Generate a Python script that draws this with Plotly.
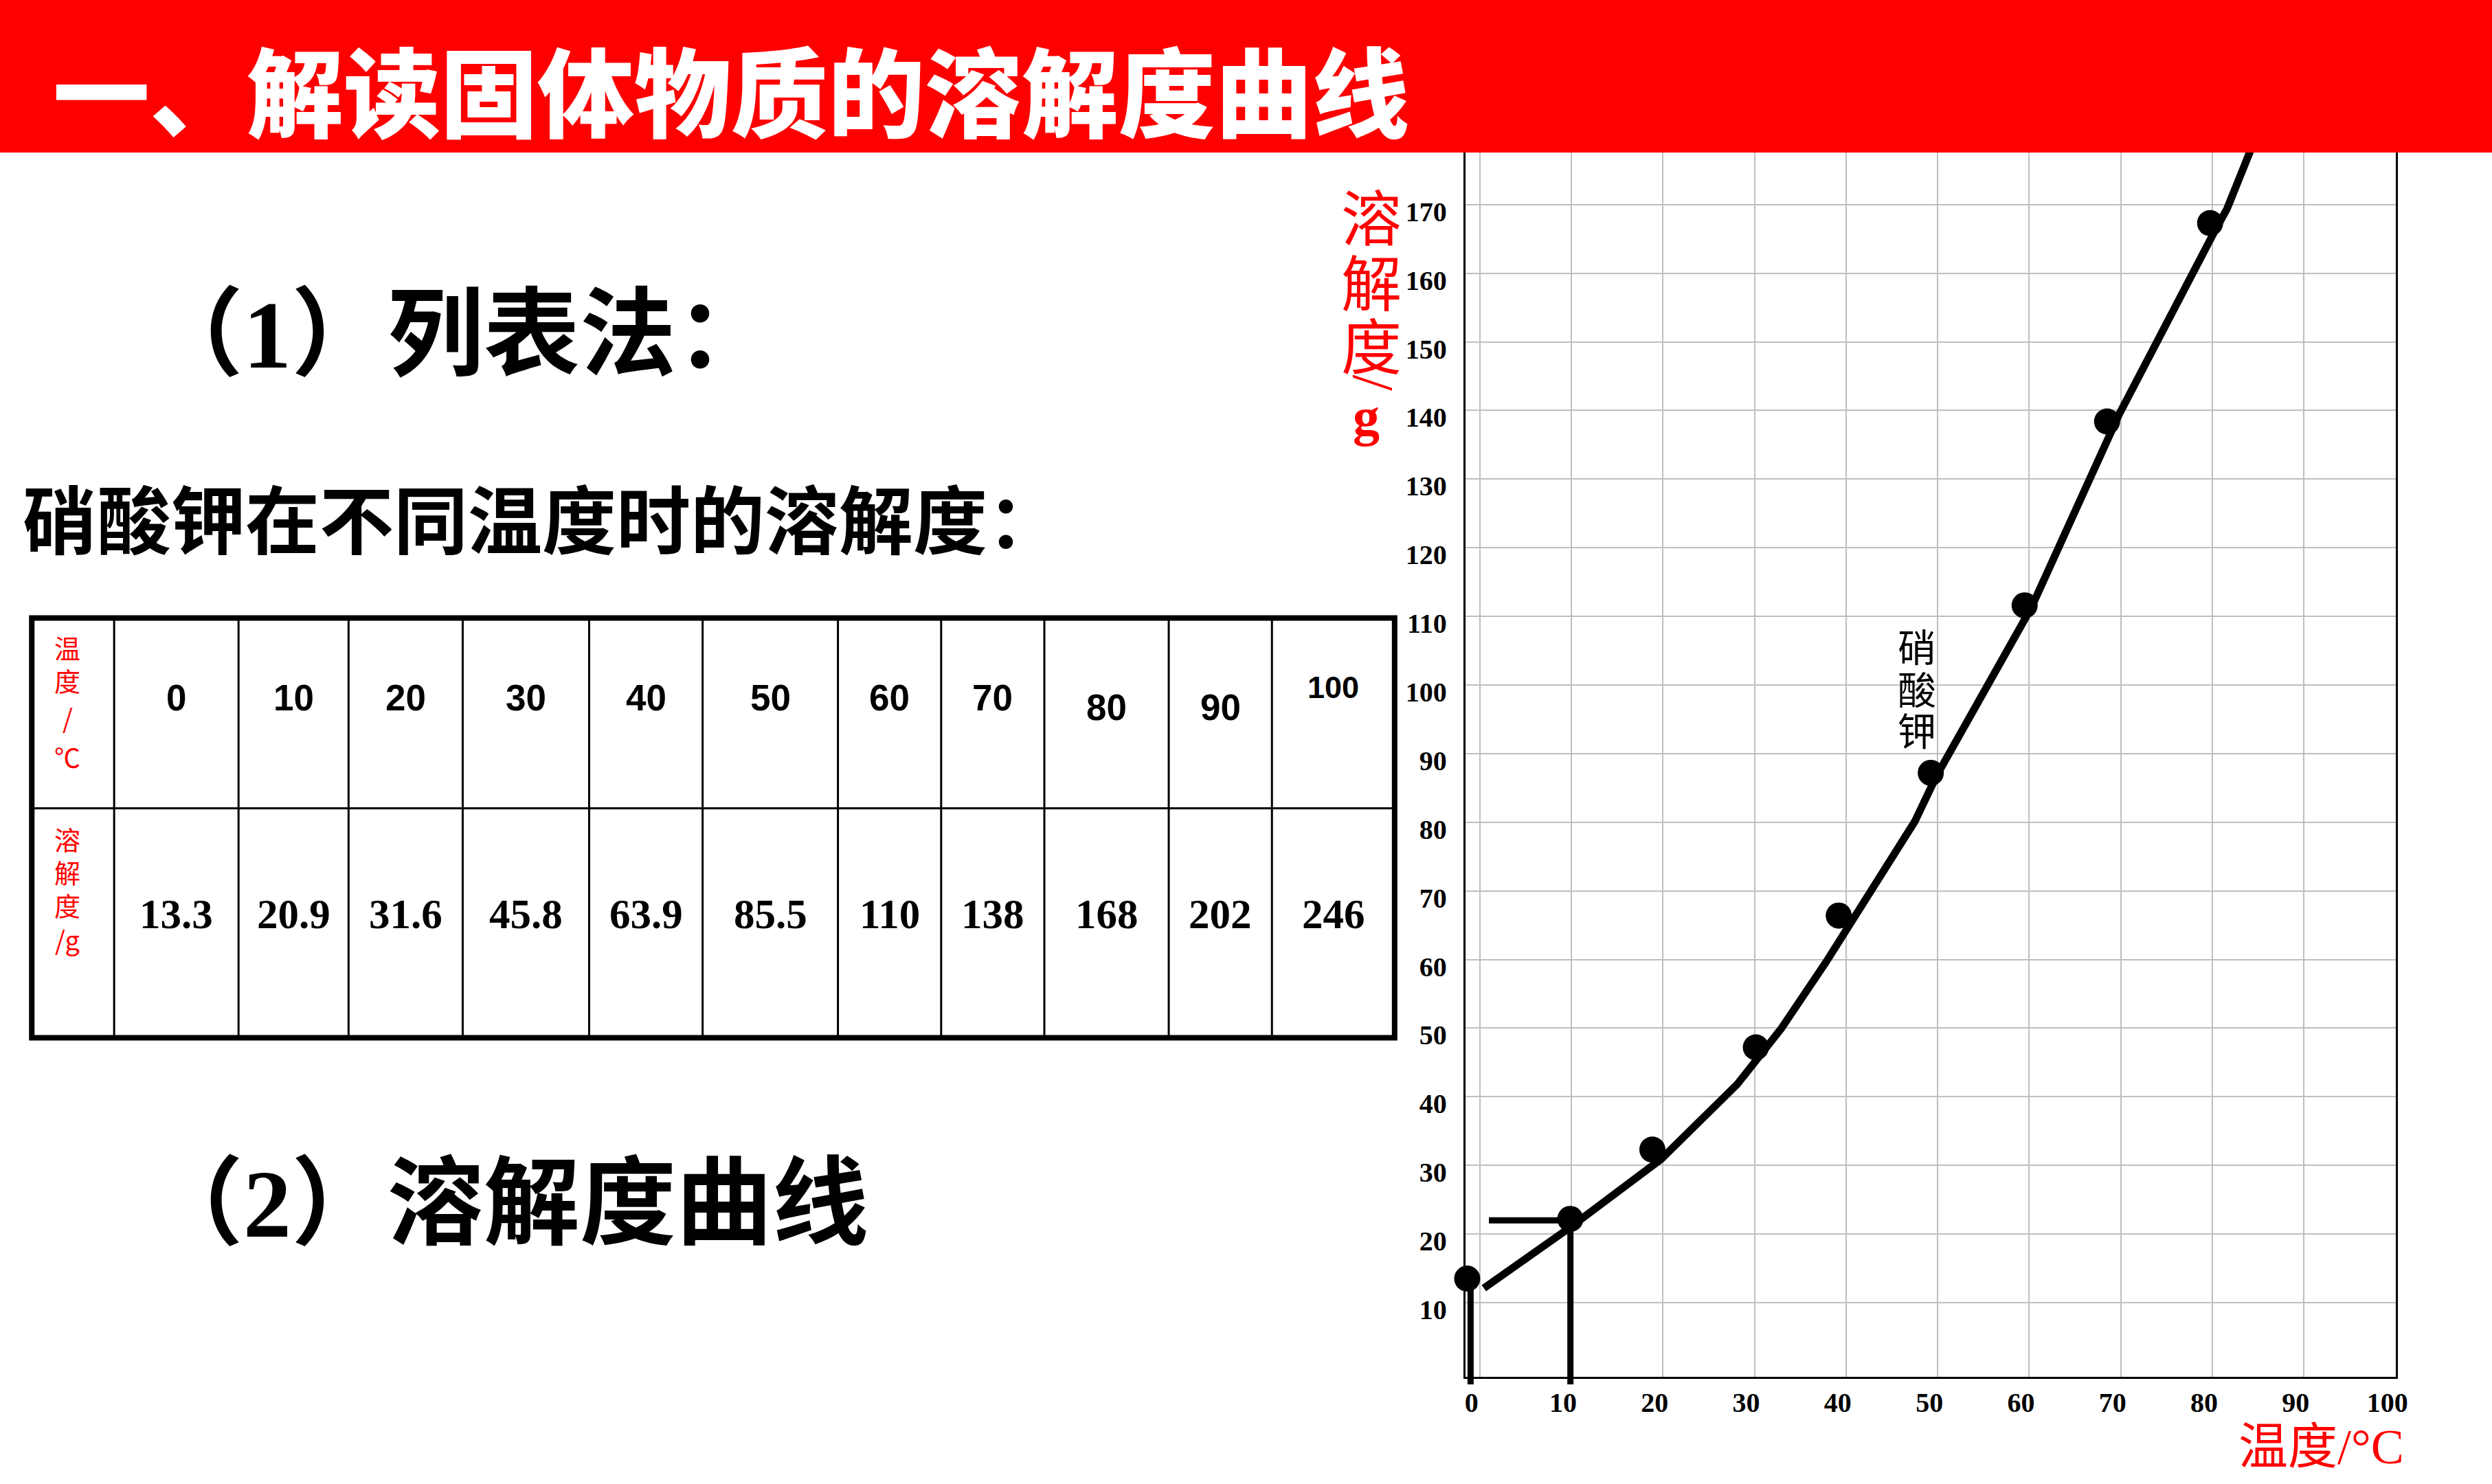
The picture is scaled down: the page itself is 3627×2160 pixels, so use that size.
import plotly.graph_objects as go

W, H = 3627, 2160

# ---------------- data ----------------
title_text = "一、解读固体物质的溶解度曲线"
section1_text = "（1）列表法："
table_caption = "硝酸钾在不同温度时的溶解度："
section2_text = "（2）溶解度曲线"

table_temps = ["0", "10", "20", "30", "40", "50", "60", "70", "80", "90", "100"]
table_solubility = ["13.3", "20.9", "31.6", "45.8", "63.9", "85.5", "110", "138", "168", "202", "246"]
row_label_temp = ["温", "度", "/", "℃"]
row_label_sol = ["溶", "解", "度", "/g"]

# points as drawn on the graph
dot_temp = [-1.37, 9.89, 18.85, 30.15, 39.2, 49.25, 59.5, 68.5, 79.75]
dot_sol = [13.5, 22.2, 32.3, 47.2, 66.4, 87.2, 111.6, 138.4, 167.3]

# hand-drawn solubility curve
curve_temp = [0.45, 9.9, 19.8, 28.1, 32.9, 37.8, 47.5, 49.9, 60.2, 69.8, 80.2, 81.6, 84.1, 86.4]
curve_sol = [12.1, 21.0, 30.9, 41.8, 49.9, 59.6, 80.1, 86.8, 111.2, 139.4, 166.0, 169.4, 177.7, 186.0]

# reading guides
guide_temp = [-1.0, 9.9]
guide_sol = [13.5, 22.0]
hguide_start = 1.0

x_ticks = [0, 10, 20, 30, 40, 50, 60, 70, 80, 90, 100]
y_ticks = [10, 20, 30, 40, 50, 60, 70, 80, 90, 100, 110, 120, 130, 140, 150, 160, 170, 180]
curve_label = ["硝", "酸", "钾"]
y_title_chars = ["溶", "解", "度"]
x_title = "温度/°C"

# ---------------- layout constants (pixels) ----------------
PLOT_L, PLOT_R, PLOT_B, PLOT_T = 2143, 3504, 2004, 148
X_RANGE = [-1.57, 100]
Y_RANGE = [-0.81, 185]
GUIDE_BOTTOM = 2015
BAND_BOTTOM = 222

def px(x):
    return x / W

def py(y):
    return 1 - y / H

RED = "#FF0000"
CJK = "Noto Sans CJK SC"
SERIF = "Liberation Serif, Noto Sans CJK SC"

fig = go.Figure()

# curve
fig.add_trace(go.Scatter(x=curve_temp, y=curve_sol, mode="lines",
                         line=dict(color="black", width=11), hoverinfo="skip", showlegend=False))
# vertical guides (in-plot part)
for t, s in zip(guide_temp, guide_sol):
    fig.add_trace(go.Scatter(x=[t, t], y=[s, Y_RANGE[0]], mode="lines",
                             line=dict(color="black", width=9), showlegend=False, hoverinfo="skip"))
# horizontal guide
fig.add_trace(go.Scatter(x=[hguide_start, guide_temp[1]], y=[guide_sol[1], guide_sol[1]], mode="lines",
                         line=dict(color="black", width=9), showlegend=False, hoverinfo="skip"))
# dots
fig.add_trace(go.Scatter(x=dot_temp, y=dot_sol, mode="markers", cliponaxis=False,
                         marker=dict(color="black", size=38, line=dict(width=0)),
                         showlegend=False, hoverinfo="skip"))

shapes = []
# guide stubs below the axis
stub = (GUIDE_BOTTOM - PLOT_B) / (PLOT_B - PLOT_T)
for t in guide_temp:
    shapes.append(dict(type="line", xref="x", yref="y domain", x0=t, x1=t, y0=-stub, y1=0,
                       line=dict(color="black", width=9)))

# red title band
shapes.append(dict(type="rect", xref="paper", yref="paper", x0=-0.01, x1=1.01, y0=py(BAND_BOTTOM), y1=1.01,
                   fillcolor=RED, line=dict(width=0), layer="above"))

# table
cols = [45.5, 166, 348, 509, 676, 861, 1027, 1225, 1376, 1527, 1709, 1860, 2039.5]
rows = [899.5, 1176.5, 1510.5]
for c in cols[1:-1]:
    shapes.append(dict(type="line", xref="paper", yref="paper", x0=px(c), x1=px(c),
                       y0=py(rows[0]), y1=py(rows[2]), line=dict(color="black", width=3)))
shapes.append(dict(type="line", xref="paper", yref="paper", x0=px(cols[0]), x1=px(cols[-1]),
                   y0=py(rows[1]), y1=py(rows[1]), line=dict(color="black", width=3)))
shapes.append(dict(type="rect", xref="paper", yref="paper", x0=px(cols[0]), x1=px(cols[-1]),
                   y0=py(rows[2]), y1=py(rows[0]), line=dict(color="black", width=8)))

ann = []

def text(x, y, s, size, color="black", family=CJK, weight="normal", xanchor="center", yanchor="middle", angle=0):
    ann.append(dict(x=px(x), y=py(y), xref="paper", yref="paper", text=s, showarrow=False,
                    xanchor=xanchor, yanchor=yanchor, textangle=angle,
                    font=dict(size=size, color=color, family=family, weight=weight)))

# title
text(74, 127, title_text, 141, color="white", weight=900, xanchor="left")
# section texts
text(212, 488, section1_text, 140, family=SERIF, weight="bold", xanchor="left")
text(30, 751, table_caption, 108, weight="bold", xanchor="left")
text(212, 1752, section2_text, 140, family=SERIF, weight="bold", xanchor="left")

# table text
centers = [(cols[i] + cols[i + 1]) / 2 for i in range(len(cols) - 1)]
header_dy = [0, 0, 0, 0, 0, 0, 0, 0, 14, 14, -15]
header_size = [53] * 10 + [45]
for i, t in enumerate(table_temps):
    text(centers[i + 1], 1015 + header_dy[i], t, header_size[i],
         family="Liberation Sans Narrow, Liberation Sans", weight="bold")
for i, s in enumerate(table_solubility):
    text(centers[i + 1], 1330, s, 61, family="Liberation Serif", weight="bold")
for ch, y in zip(row_label_temp, [941, 990, 1043, 1100]):
    text(centers[0] - 8, y, ch, 38, color=RED)
for ch, y in zip(row_label_sol, [1220, 1268, 1316, 1366]):
    text(centers[0] - 8, y, ch, 38, color=RED)

# axis titles (vertical writing, one glyph per line)
for ch, y in zip(y_title_chars, [311, 406, 498]):
    text(2006, y, ch, 88, color=RED)
text(2008, 558, "/", 84, color=RED, family="Liberation Serif", angle=90)
text(1998, 606, "g", 78, color=RED, family="Liberation Serif", weight="bold")
text(3518, 2106, x_title, 72, color=RED, family=SERIF, xanchor="right")

# curve label (vertical writing)
for ch, y in zip(curve_label, [938, 1000, 1060]):
    text(2804, y, ch, 56)

fig.update_layout(
    width=W, height=H, margin=dict(l=0, r=0, t=0, b=0),
    paper_bgcolor="white", plot_bgcolor="white", showlegend=False,
    shapes=shapes, annotations=ann,
    xaxis=dict(domain=[px(PLOT_L), px(PLOT_R)], range=X_RANGE, tickvals=x_ticks,
               ticktext=[str(v) for v in x_ticks], showgrid=True, gridcolor="#BFBFBF", gridwidth=1.5,
               showline=True, linecolor="black", linewidth=3, mirror=True, zeroline=False, ticks="",
               tickfont=dict(family="Liberation Serif", size=40, color="black", weight="bold"),
               ticklabelstandoff=0, ticklabelshift=-12),
    yaxis=dict(domain=[py(PLOT_B), py(PLOT_T)], range=Y_RANGE, tickvals=y_ticks,
               ticktext=[str(v) for v in y_ticks], showgrid=True, gridcolor="#BFBFBF", gridwidth=1.5,
               showline=True, linecolor="black", linewidth=3, mirror=True, zeroline=False, ticks="",
               tickfont=dict(family="Liberation Serif", size=40, color="black", weight="bold"),
               ticklabelstandoff=16, ticklabelshift=10),
)

fig.write_html("out.html", post_script="document.body.style.margin='0px';document.body.style.overflow='hidden';")
